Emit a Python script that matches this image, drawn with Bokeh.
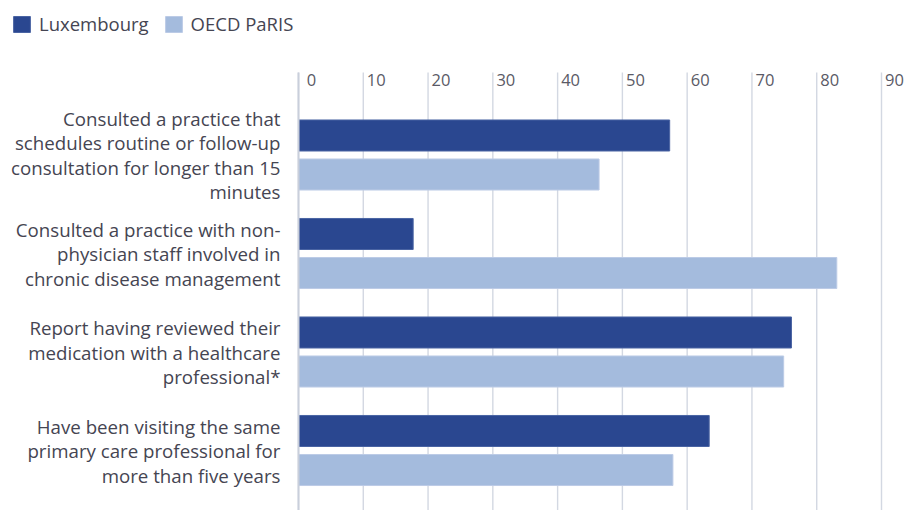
from bokeh.plotting import figure
from bokeh.models import (Range1d, LinearAxis, FixedTicker, Legend, LegendItem,
                          ColumnDataSource)
from bokeh.transform import dodge
from bokeh.embed import file_html
from bokeh.resources import INLINE

categories = [
    "Consulted a practice that\nschedules routine or follow-up\nconsultation for longer than 15\nminutes",
    "Consulted a practice with non-\nphysician staff involved in\nchronic disease management",
    "Report having reviewed their\nmedication with a healthcare\nprofessional*",
    "Have been visiting the same\nprimary care professional for\nmore than five years",
]
luxembourg = [57.3, 17.7, 76.1, 63.4]
oecd_paris = [46.4, 83.1, 74.9, 57.8]
x_ticks = [0, 10, 20, 30, 40, 50, 60, 70, 80, 90]
series_names = ["Luxembourg", "OECD PaRIS"]

LUX_COLOR = "#2a4790"
OECD_COLOR = "#a4bbdd"
GRID_COLOR = "#d3d8e2"
TEXT_COLOR = "#454552"
FONT = "Open Sans"

pos = list(range(len(categories)))
src = ColumnDataSource(dict(pos=pos, lux=luxembourg, oecd=oecd_paris))
grid_src = ColumnDataSource(dict(x=x_ticks))

W, H = 907, 510
zero_px, ninety_px = 298, 881
px_per_unit = (ninety_px - zero_px) / 90.0
x_start = -zero_px / px_per_unit
x_end = (W - zero_px) / px_per_unit
pitch = 98.5
first_center = 154.5
y_top = -first_center / pitch
y_bottom = (H - first_center) / pitch
grid_top = (72 - first_center) / pitch

p = figure(width=W, height=H, output_backend="svg", toolbar_location=None,
           x_range=Range1d(x_start, x_end), y_range=Range1d(y_bottom, y_top),
           x_axis_location=None, y_axis_location=None,
           min_border_left=0, min_border_right=0, min_border_top=0, min_border_bottom=0)
p.outline_line_color = None
p.xgrid.visible = False
p.ygrid.visible = False

# vertical gridlines (start below the legend)
p.segment(x0="x", x1="x", y0=grid_top, y1=y_bottom, source=grid_src,
          line_color=GRID_COLOR, line_width=1.4)

# value labels along the top, just right of each gridline
shift = 13.0 / px_per_unit
p.extra_x_ranges = {"lab": Range1d(x_start - shift, x_end - shift)}
xax = LinearAxis(x_range_name="lab", ticker=FixedTicker(ticks=x_ticks))
xax.fixed_location = grid_top
xax.axis_line_color = None
xax.major_tick_line_color = None
xax.minor_tick_line_color = None
xax.major_tick_out = 0
xax.major_tick_in = 0
xax.major_label_standoff = -13
xax.major_label_text_font = FONT
xax.major_label_text_font_size = "16.5px"
xax.major_label_text_color = "#5a5a66"
p.add_layout(xax, "above")

# category axis at x = 0
yax = LinearAxis(ticker=FixedTicker(ticks=pos))
yax.fixed_location = 0
yax.bounds = (grid_top, y_bottom)
yax.major_label_overrides = {i: c for i, c in enumerate(categories)}
yax.major_tick_line_color = None
yax.minor_tick_line_color = None
yax.major_tick_out = 0
yax.major_tick_in = 0
yax.axis_line_color = "#c9cfdb"
yax.axis_line_width = 2
yax.major_label_standoff = 18
yax.major_label_text_font = FONT
yax.major_label_text_font_size = "18.7px"
yax.major_label_text_color = TEXT_COLOR
yax.major_label_text_line_height = 0.98
p.add_layout(yax, "left")

bh = 0.315
off = 0.198
r1 = p.hbar(y=dodge("pos", -off, range=p.y_range), right="lux", left=0, height=bh,
            source=src, fill_color=LUX_COLOR, line_color="#4a64a3", line_width=1)
r2 = p.hbar(y=dodge("pos", off, range=p.y_range), right="oecd", left=0, height=bh,
            source=src, fill_color=OECD_COLOR, line_color="#bccbe6", line_width=1)

legend = Legend(items=[LegendItem(label=series_names[0], renderers=[r1]),
                       LegendItem(label=series_names[1], renderers=[r2])],
                orientation="horizontal", location=(11, H - 16 - 20),
                glyph_width=21, glyph_height=20, label_standoff=7, spacing=14,
                padding=0, margin=0, border_line_color=None, background_fill_alpha=0,
                label_text_font=FONT, label_text_font_size="18.5px",
                label_text_color=TEXT_COLOR, label_height=20)
p.add_layout(legend, "center")

open("out.html", "w").write(file_html(p, INLINE))
